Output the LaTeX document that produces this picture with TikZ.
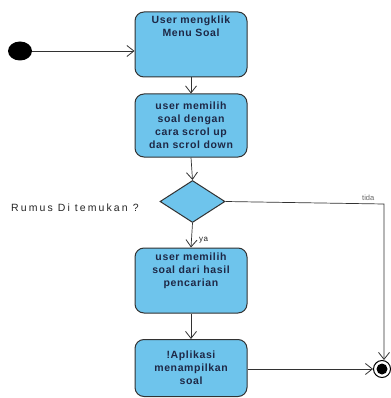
\documentclass[tikz,border=0pt]{standalone}
\usepackage{fontspec}
\setmainfont{Liberation Sans}
\newfontfamily\boxfont[LetterSpace=6]{Liberation Sans}
\newfontfamily\lblfont[LetterSpace=20]{Liberation Sans}
\usetikzlibrary{arrows.meta,shapes.geometric}
\definecolor{actfill}{RGB}{110,196,236}
\definecolor{acttext}{RGB}{30,40,70}
\definecolor{edgecol}{RGB}{50,50,50}
\tikzset{
  act/.style={draw=edgecol, line width=1pt, fill=actfill, rounded corners=9pt,
    minimum width=112pt, text width=110pt, align=center,
    font=\boxfont\bfseries\fontsize{10.5}{13}\selectfont, text=acttext, inner sep=0pt},
  acttxt/.style={act, draw=none, fill=none, minimum height=0pt},
  dec/.style={draw=edgecol, line width=1pt, fill=actfill, diamond, aspect=1.55,
    minimum width=65pt, minimum height=42pt, inner sep=0pt},
  flow/.style={draw=edgecol, line width=0.7pt, -{Straight Barb[length=7pt,width=11pt,line width=0.8pt]}},
  lbl/.style={font=\lblfont\fontsize{10.5}{11}\selectfont, text=black!85, inner sep=0pt},
}
\begin{document}
\begin{tikzpicture}[x=1pt,y=-1pt]
\useasboundingbox (0,0) rectangle (390,398);
\fill[white] (0,0) rectangle (390,398);
% initial node
\node[ellipse, fill=black, minimum width=24pt, minimum height=19pt, inner sep=0pt] (init) at (20,51) {};
% activities
\node[act, minimum height=65pt] (a1) at (191,44.5) {};
\node[acttxt, anchor=north] (t1) at (191,15) {User mengklik\\Menu Soal};
\node[act, minimum height=63pt] (a2) at (191,125.5) {user memilih\\soal dengan\\cara scrol up\\dan scrol down};
\node[dec] (d) at (192.5,201.5) {};
\node[act, minimum height=65pt] (a3) at (191,280.5) {};
\node[acttxt, anchor=north] (t3) at (191,252) {user memilih\\soal dari hasil\\pencarian};
\node[act, minimum height=57pt] (a4) at (191,368) {!Aplikasi\\menampilkan\\soal};
% final node
\node[circle, draw=black, line width=1pt, minimum size=17pt, inner sep=0pt, fill=white] (fin) at (382,369) {};
\fill[black] (fin.center) circle (5.5pt);
% labels
\node[lbl, anchor=west] (q) at (11,208) {Rumus Di temukan ?};
\node[lbl, anchor=west, font=\boxfont\fontsize{8}{8}\selectfont] (ya) at (199,240) {ya};
\node[lbl, anchor=west, font=\fontsize{7.5}{8}\selectfont, text=black!60] (tidak) at (362,198) {tida};
% connectors
\draw[flow] (init) -- (a1.west |- init);
\draw[flow] (a1) -- (a2);
\draw[flow] (a2.south) -- (d.north);
\draw[flow] (d.south) -- (a3.north);
\draw[flow] (a3) -- (a4);
\coordinate (corner) at (384,204);
\draw[flow] (d.east) -- (corner) -- (fin.north -| corner);
\draw[flow] (a4.east |- fin) -- (fin.west);
\end{tikzpicture}
\end{document}
